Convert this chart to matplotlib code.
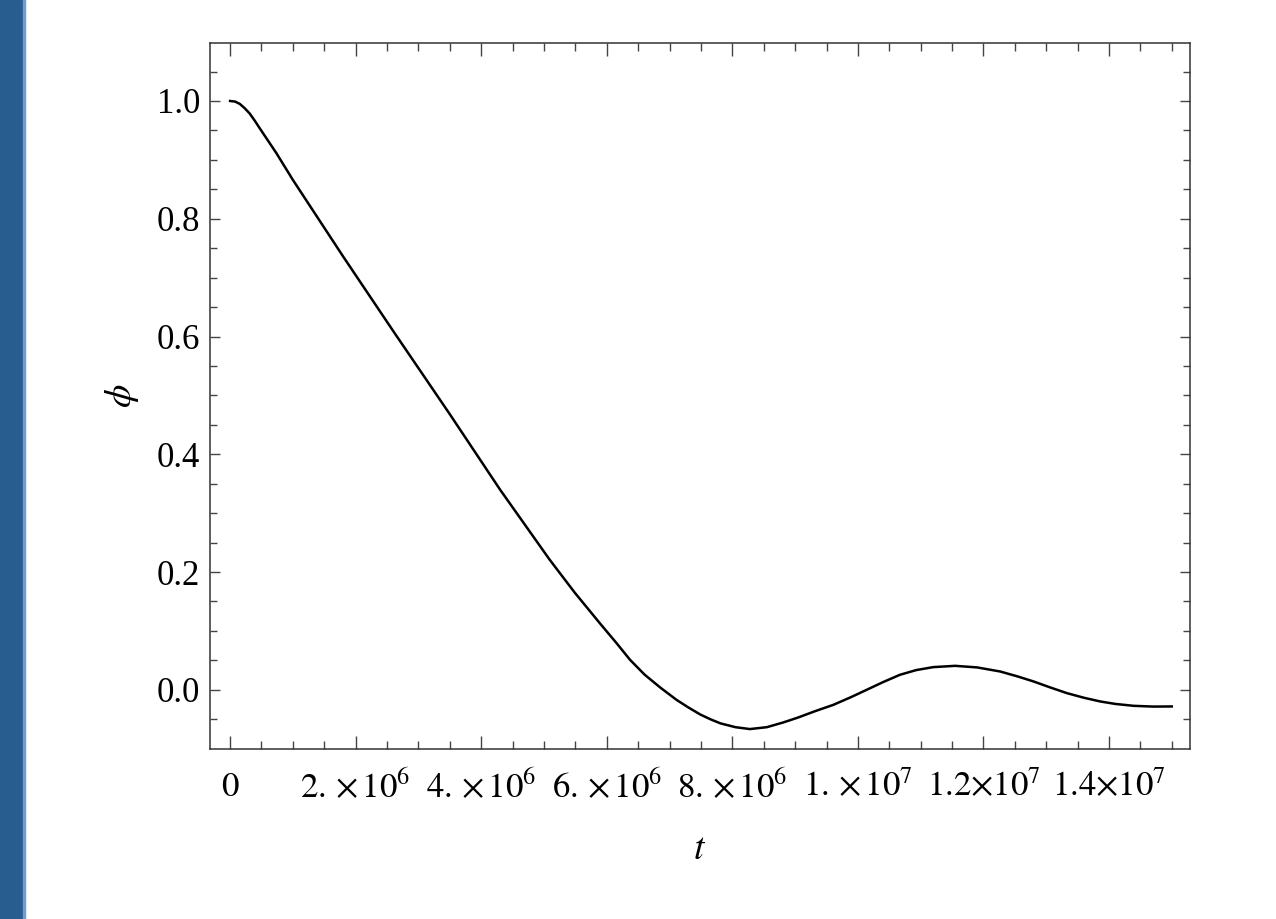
import numpy as np
import matplotlib.pyplot as plt
from matplotlib.patches import Rectangle
from matplotlib.ticker import MultipleLocator, FixedLocator, FixedFormatter

plt.rcParams['font.family'] = 'serif'
plt.rcParams['font.serif'] = ['Liberation Serif', 'DejaVu Serif']
plt.rcParams['mathtext.fontset'] = 'stix'

# 数值解 phi(t)，t 以 10^6 为单位读出
t_mega = np.array([0.0, 0.08, 0.155, 0.23, 0.31, 0.39, 0.47, 0.74, 1.0, 1.8, 2.6,
                   3.13, 3.5, 4.3, 5.09, 5.49, 5.89, 6.15, 6.37, 6.6, 6.85, 7.11,
                   7.3, 7.49, 7.65, 7.81, 8.05, 8.28, 8.55, 8.81, 9.05, 9.3, 9.61,
                   9.9, 10.14, 10.4, 10.67, 10.93, 11.2, 11.55, 11.9, 12.27, 12.55,
                   12.8, 13.05, 13.33, 13.6, 13.86, 14.1, 14.39, 14.7, 15.0])
phi = np.array([1.000, 0.999, 0.995, 0.988, 0.979, 0.967, 0.954, 0.911, 0.866,
                0.736, 0.609, 0.526, 0.468, 0.340, 0.221, 0.165, 0.113, 0.080,
                0.051, 0.026, 0.004, -0.017, -0.030, -0.042, -0.050, -0.057,
                -0.0635, -0.0667, -0.0635, -0.0555, -0.047, -0.037, -0.0255,
                -0.012, 0.000, 0.013, 0.0255, 0.0335, 0.0385, 0.0407, 0.038,
                0.031, 0.0225, 0.0141, 0.0045, -0.0057, -0.0135, -0.0198, -0.024,
                -0.0272, -0.0285, -0.0283])
t = t_mega * 1e6

xticks = [0, 2e6, 4e6, 6e6, 8e6, 1e7, 1.2e7, 1.4e7]
xticklabels = [r'$0$', r'$2.\,{\times}\,10^{6}$', r'$4.\,{\times}\,10^{6}$',
               r'$6.\,{\times}\,10^{6}$', r'$8.\,{\times}\,10^{6}$',
               r'$1.\,{\times}\,10^{7}$', r'$1.2{\times}10^{7}$', r'$1.4{\times}10^{7}$']
yticks = [0.0, 0.2, 0.4, 0.6, 0.8, 1.0]
yticklabels = ['0.0', '0.2', '0.4', '0.6', '0.8', '1.0']

fig = plt.figure(figsize=(12.76, 9.19), dpi=100)
# 左侧蓝色边条
fig.patches.append(Rectangle((0, 0), 23 / 1276, 1, transform=fig.transFigure,
                             color='#285d8f', zorder=0))
fig.patches.append(Rectangle((23 / 1276, 0), 2 / 1276, 1, transform=fig.transFigure,
                             color='#6f9dcc', zorder=0))

ax = fig.add_axes([210 / 1276, 1 - 748.5 / 919, 980 / 1276, 705.8 / 919])
ax.plot(t, phi, color='black', linewidth=1.8)

ax.set_xlim(-0.32e6, 15.29e6)
ax.set_ylim(-0.0997, 1.099)

ax.xaxis.set_major_locator(FixedLocator(xticks))
ax.xaxis.set_major_formatter(FixedFormatter(xticklabels))
ax.xaxis.set_minor_locator(MultipleLocator(5e5))
ax.yaxis.set_major_locator(FixedLocator(yticks))
ax.yaxis.set_major_formatter(FixedFormatter(yticklabels))
ax.yaxis.set_minor_locator(MultipleLocator(0.05))

ax.tick_params(axis='both', which='both', direction='in', top=True, right=True,
               color='#444444', width=1.0, labelsize=25)
ax.tick_params(axis='x', which='major', length=9.5, pad=16)
ax.tick_params(axis='x', which='minor', length=6)
ax.tick_params(axis='y', which='major', length=7.5, pad=7)
ax.tick_params(axis='y', which='minor', length=5)
for s in ax.spines.values():
    s.set_color('#333333')
    s.set_linewidth(1.1)

ax.set_xlabel(r'$t$', fontsize=27, va='center')
ax.xaxis.set_label_coords(0.5, (748.5 - 850) / 705.8)
ax.set_ylabel(r'$\phi$', fontsize=27, va='center')
ax.yaxis.set_label_coords((122 - 210) / 980, 0.5)

plt.savefig('out.png', dpi=100)
